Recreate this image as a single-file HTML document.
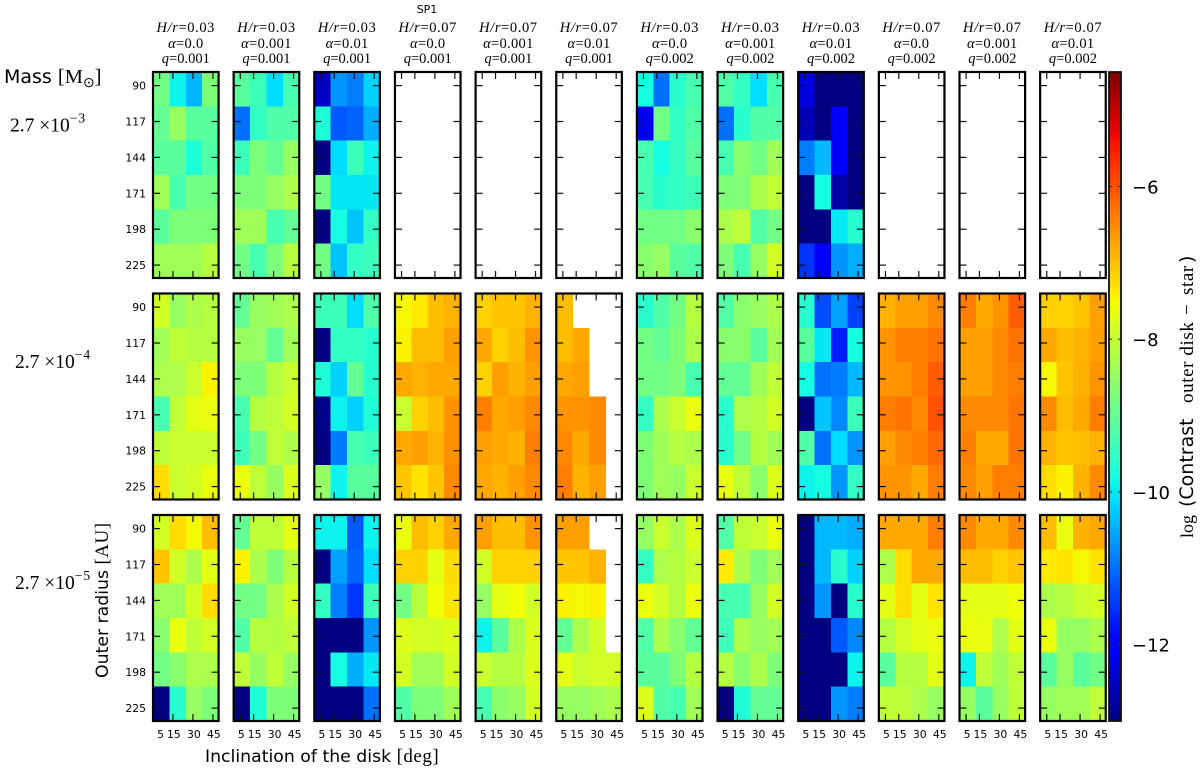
<!DOCTYPE html>
<html>
<head>
<meta charset="utf-8">
<title>Contrast heatmap grid</title>
<style>
html,body{margin:0;padding:0;background:#fff;width:1200px;height:768px;overflow:hidden}
svg{display:block}
.sans{font-family:"DejaVu Sans","Liberation Sans",sans-serif;fill:#000}
.serif{font-family:"Liberation Serif",serif;fill:#000}
.it{font-style:italic}
</style>
</head>
<body>
<svg id="chart" xmlns="http://www.w3.org/2000/svg" width="1200" height="768" viewBox="0 0 1200 768">
  <text class="sans" x="427" y="13" font-size="11" text-anchor="middle">SP1</text>
  <text x="4" y="83" font-size="19"><tspan class="sans">Mass </tspan><tspan class="serif" font-size="20.5">[M</tspan><tspan class="serif" font-size="14" dy="4">⊙</tspan><tspan class="serif" font-size="20.5" dy="-4">]</tspan></text>
  <text class="serif" x="10" y="131.5" font-size="19.5">2.7 ×10<tspan font-size="13.5" dy="-9" letter-spacing="1">−3</tspan></text>
  <text class="serif" x="15" y="368" font-size="19.5">2.7 ×10<tspan font-size="13.5" dy="-9" letter-spacing="1">−4</tspan></text>
  <text class="serif" x="15" y="589" font-size="19.5">2.7 ×10<tspan font-size="13.5" dy="-9" letter-spacing="1">−5</tspan></text>
  <text transform="translate(108,678) rotate(-90)" font-size="17.3"><tspan class="sans">Outer radius </tspan><tspan class="serif" font-size="19" letter-spacing="0.5">[AU]</tspan></text>
  <text x="205" y="762" font-size="17.3"><tspan class="sans">Inclination of the disk </tspan><tspan class="serif" font-size="19" letter-spacing="0.5">[deg]</tspan></text>
  <g transform="translate(1193,0)">
    <text class="serif" transform="translate(0,538) rotate(-90)" font-size="18">log</text>
    <text class="sans" transform="translate(0,507) rotate(-90)" font-size="19">(Contrast</text>
    <text class="serif" transform="translate(0,403) rotate(-90)" font-size="19" letter-spacing="0.6">outer disk</text>
    <text class="serif" transform="translate(0,315) rotate(-90)" font-size="19">−</text>
    <text class="serif" transform="translate(0,295) rotate(-90)" font-size="19" letter-spacing="0.6">star</text>
    <text class="sans" transform="translate(0,263) rotate(-90)" font-size="19">)</text>
  </g>
</svg>
<script>
const radii = [90, 117, 144, 171, 198, 225];
const inclinations = [5, 15, 30, 45];
const aspectRatios = ['0.03','0.03','0.03','0.07','0.07','0.07','0.03','0.03','0.03','0.07','0.07','0.07'];
const viscosities = ['0.0','0.001','0.01','0.0','0.001','0.01','0.0','0.001','0.01','0.0','0.001','0.01'];
const planetRatios = ['0.001','0.001','0.001','0.001','0.001','0.001','0.002','0.002','0.002','0.002','0.002','0.002'];
const colorbarTicks = [-6, -8, -10, -12];
const colorMin = -13;
const colorMax = -4.5;
const N = null;
const emptyPanel = [[N,N,N,N],[N,N,N,N],[N,N,N,N],[N,N,N,N],[N,N,N,N],[N,N,N,N]];

const massE3 = [
 [[-8.85,-9.9,-10.4,-8.72],[-9.0,-8.48,-9.1,-9.1],[-9.1,-9.1,-9.7,-9.2],[-8.37,-9.3,-8.85,-8.85],[-9.1,-8.72,-8.72,-8.72],[-8.37,-8.37,-8.37,-8.15]],
 [[-9.1,-9.4,-10.1,-9.3],[-11.0,-9.5,-9.2,-9.2],[-9.4,-8.72,-9.0,-8.48],[-8.72,-8.72,-8.48,-8.25],[-8.37,-8.37,-9.3,-9.0],[-8.85,-9.3,-8.72,-8.15]],
 [[-12.5,-10.7,-10.9,-10.2],[-9.7,-11.2,-11.1,-10.5],[-13,-10.1,-9.4,-9.9],[-8.85,-10.0,-10.0,-10.0],[-13,-9.8,-10.3,-9.5],[-8.85,-10.3,-9.5,-9.4]],
 emptyPanel, emptyPanel, emptyPanel,
 [[-9.8,-11.0,-9.6,-9.3],[-12.2,-8.85,-9.5,-9.2],[-9.3,-9.8,-9.5,-9.1],[-9.3,-9.6,-9.5,-9.4],[-8.85,-8.85,-8.85,-8.6],[-8.6,-8.48,-9.1,-9.2]],
 [[-9.2,-9.5,-10.1,-9.3],[-11.0,-9.6,-9.2,-9.2],[-9.3,-8.6,-8.85,-8.37],[-8.72,-8.72,-8.25,-8.05],[-8.25,-8.05,-9.2,-8.85],[-8.72,-9.3,-8.48,-7.85]],
 [[-12.3,-13,-13,-13],[-12.6,-13,-12.1,-13],[-10.9,-10.4,-12.1,-13],[-13,-9.8,-12.7,-13],[-13,-13,-10.0,-9.6],[-11.5,-12.1,-10.7,-10.5]],
 emptyPanel, emptyPanel, emptyPanel
];

const massE4 = [
 [[-7.85,-8.48,-8.25,-8.15],[-8.37,-8.05,-8.15,-8.15],[-8.25,-8.25,-7.95,-7.45],[-9.3,-8.05,-7.68,-7.62],[-8.05,-7.95,-7.95,-7.95],[-7.25,-7.95,-7.85,-7.62]],
 [[-9.0,-8.48,-8.37,-8.25],[-8.48,-8.48,-9.0,-8.37],[-8.72,-8.72,-8.15,-7.95],[-9.3,-8.15,-8.05,-7.85],[-9.4,-8.85,-8.05,-8.25],[-7.62,-8.05,-8.48,-7.75]],
 [[-9.4,-9.4,-10.1,-9.2],[-13,-9.5,-9.5,-9.6],[-9.7,-10.2,-9.0,-9.6],[-12.9,-9.9,-10.2,-9.7],[-13,-10.9,-9.3,-9.4],[-8.48,-9.9,-9.1,-9.1]],
 [[-7.5,-7.38,-6.97,-6.88],[-7.45,-6.97,-6.97,-6.7],[-6.78,-6.88,-6.78,-6.78],[-7.95,-7.15,-6.97,-6.6],[-6.78,-6.7,-6.88,-6.6],[-7.05,-7.32,-7.05,-6.5]],
 [[-7.15,-7.05,-7.05,-6.88],[-6.78,-7.15,-6.97,-6.6],[-7.15,-6.7,-6.88,-6.7],[-6.4,-6.78,-6.7,-6.5],[-6.7,-6.78,-6.88,-6.4],[-6.78,-6.88,-6.7,-6.5]],
 [[-6.97,N,N,N],[-6.97,-6.78,N,N],[-6.78,-6.7,N,N],[-6.6,-6.6,-6.5,N],[-6.5,-6.78,-6.5,N],[-6.4,-6.88,-6.7,N]],
 [[-9.6,-9.2,-8.85,-8.15],[-8.85,-9.0,-8.72,-8.25],[-8.85,-8.85,-8.72,-9.3],[-9.5,-8.25,-7.95,-7.62],[-8.72,-8.37,-8.15,-8.25],[-8.72,-8.37,-8.48,-7.95]],
 [[-9.2,-8.6,-8.48,-8.25],[-8.6,-8.6,-9.1,-8.37],[-9.0,-9.0,-8.37,-8.05],[-9.6,-8.25,-8.15,-7.85],[-9.6,-8.85,-8.15,-8.37],[-7.62,-8.05,-8.6,-7.75]],
 [[-9.6,-11.3,-10.6,-11.4],[-9.1,-10.0,-11.7,-9.8],[-9.8,-11.0,-10.9,-10.4],[-13,-10.3,-10.8,-9.4],[-9.2,-11.0,-10.1,-10.7],[-9.9,-9.8,-10.7,-9.5]],
 [[-6.88,-6.7,-6.7,-6.5],[-6.6,-6.4,-6.4,-6.3],[-6.6,-6.6,-6.4,-6.1],[-6.4,-6.3,-6.5,-6.0],[-6.7,-6.5,-6.4,-6.2],[-6.6,-6.6,-6.78,-6.4]],
 [[-6.4,-6.78,-6.6,-6.1],[-6.7,-6.7,-6.5,-6.3],[-6.7,-6.7,-6.5,-6.4],[-6.5,-6.5,-6.5,-6.3],[-6.4,-6.78,-6.78,-6.3],[-6.5,-6.7,-6.4,-6.4]],
 [[-7.15,-7.15,-7.05,-6.7],[-6.78,-6.97,-6.88,-6.7],[-7.5,-7.05,-6.88,-6.6],[-6.5,-6.97,-6.78,-6.4],[-6.88,-7.05,-6.97,-6.88],[-7.25,-7.45,-6.88,-6.5]]
];

const massE5 = [
 [[-7.85,-7.25,-7.5,-6.97],[-7.05,-7.85,-8.25,-7.68],[-8.37,-8.37,-7.85,-7.25],[-8.6,-7.62,-8.05,-7.85],[-8.85,-8.6,-8.25,-8.25],[-13,-9.6,-8.48,-8.72]],
 [[-9.0,-8.05,-8.05,-7.68],[-7.45,-8.25,-8.72,-8.15],[-8.85,-8.85,-8.25,-7.85],[-9.2,-8.15,-8.15,-8.05],[-8.05,-8.48,-8.05,-8.48],[-13,-9.7,-8.72,-8.72]],
 [[-9.9,-9.9,-11.2,-9.9],[-13,-10.6,-11.1,-10.1],[-9.5,-10.9,-11.5,-9.4],[-13,-13,-13,-10.7],[-13,-9.8,-10.5,-10.0],[-13,-13,-13,-11.0]],
 [[-7.62,-6.97,-7.15,-6.78],[-7.15,-7.15,-7.68,-7.25],[-8.85,-8.15,-7.55,-7.32],[-7.75,-7.85,-7.85,-7.75],[-7.85,-8.37,-8.37,-7.85],[-9.2,-8.72,-8.72,-8.37]],
 [[-6.7,-6.97,-6.97,-6.6],[-7.85,-7.15,-7.15,-7.15],[-8.48,-7.68,-7.55,-7.85],[-9.9,-9.1,-8.25,-7.75],[-7.95,-8.15,-8.15,-7.75],[-9.3,-8.6,-8.48,-7.85]],
 [[-6.7,-6.7,N,N],[-7.05,-7.05,-6.88,N],[-7.45,-7.5,-7.45,N],[-9.0,-8.25,-7.85,N],[-7.68,-7.95,-7.85,-7.85],[-8.48,-8.48,-8.37,-8.25]],
 [[-8.48,-7.95,-8.25,-7.75],[-9.5,-8.25,-8.15,-7.95],[-7.62,-7.85,-8.15,-7.62],[-9.2,-8.25,-8.6,-9.0],[-9.1,-9.1,-8.72,-8.15],[-7.75,-9.2,-9.3,-8.37]],
 [[-9.2,-8.05,-7.95,-7.62],[-7.38,-8.25,-8.72,-8.37],[-9.3,-9.3,-8.48,-7.85],[-9.4,-8.25,-8.48,-8.37],[-8.15,-8.6,-8.25,-8.72],[-13,-9.7,-9.0,-9.0]],
 [[-13,-10.4,-10.4,-10.5],[-13,-10.4,-9.6,-10.2],[-13,-10.7,-13,-9.6],[-13,-13,-11.2,-10.8],[-13,-13,-13,-9.9],[-13,-13,-10.7,-10.9]],
 [[-6.78,-6.78,-6.78,-6.4],[-8.25,-7.25,-6.78,-6.78],[-7.68,-7.25,-7.68,-7.32],[-8.15,-7.85,-7.68,-7.62],[-9.1,-8.15,-8.15,-7.68],[-8.05,-8.05,-8.25,-8.48]],
 [[-6.5,-6.78,-6.78,-6.5],[-6.97,-6.97,-7.15,-7.05],[-7.68,-7.68,-7.68,-7.55],[-7.62,-7.62,-8.25,-7.68],[-9.9,-8.05,-8.37,-8.05],[-8.48,-9.1,-8.48,-8.05]],
 [[-6.97,-7.62,-6.88,-6.78],[-7.38,-7.32,-7.5,-7.32],[-8.25,-8.15,-7.95,-7.85],[-7.62,-8.48,-8.48,-8.25],[-9.1,-8.48,-9.1,-8.85],[-8.48,-8.37,-8.37,-8.05]]
];

const massRows = [massE3, massE4, massE5];

const svg = document.getElementById('chart');
const NS = 'http://www.w3.org/2000/svg';
function make(tag, attrs, parent) {
  const e = document.createElementNS(NS, tag);
  for (const k in attrs) e.setAttribute(k, attrs[k]);
  (parent || svg).appendChild(e);
  return e;
}
function ramp(t, stops) {
  for (let i = 1; i < stops.length; i++) {
    if (t <= stops[i][0]) {
      const a = stops[i - 1], b = stops[i];
      return a[1] + (b[1] - a[1]) * (t - a[0]) / (b[0] - a[0]);
    }
  }
  return stops[stops.length - 1][1];
}
function jet(v) {
  const t = Math.max(0, Math.min(1, (v - colorMin) / (colorMax - colorMin)));
  const r = ramp(t, [[0,0],[0.35,0],[0.66,1],[0.89,1],[1,0.5]]);
  const g = ramp(t, [[0,0],[0.125,0],[0.375,1],[0.64,1],[0.91,0],[1,0]]);
  const b = ramp(t, [[0,0.5],[0.11,1],[0.34,1],[0.65,0],[1,0]]);
  return 'rgb(' + Math.round(r * 255) + ',' + Math.round(g * 255) + ',' + Math.round(b * 255) + ')';
}
const panelW = 65.6, panelH = 206;
function panelLeft(col) { return 153 + col * 80.65; }
function panelTop(row) { return 72 + row * 221.5; }
function xTick(left, inc) { return left + 6.6 + (inc - 5) * 20 / 15; }
function yTick(top, rad) { return top + 13.6 + (rad - 90) * 35.9 / 27; }

massRows.forEach(function (panels, row) {
  panels.forEach(function (values, col) {
    const L = panelLeft(col), T = panelTop(row);
    const g = make('g', {});
    
    
    const cw = panelW / inclinations.length, ch = panelH / radii.length;
    values.forEach(function (line, ri) {
      line.forEach(function (v, ci) {
        if (v === null) return;
        const cell = make('rect', {x: L + ci * cw, y: T + ri * ch, width: cw + 0.4, height: ch + 0.4, fill: jet(v), 'shape-rendering': 'crispEdges'}, g);
        
        
      });
    });
    inclinations.forEach(function (inc) {
      const x = xTick(L, inc);
      const t1 = make('line', {x1: x, x2: x, y1: T, y2: T + 7, stroke: '#111', 'stroke-width': 1.2}, g);
      
      
      const t2 = make('line', {x1: x, x2: x, y1: T + panelH, y2: T + panelH - 7, stroke: '#111', 'stroke-width': 1.2}, g);
      
      
      if (row === massRows.length - 1) {
        const lab = make('text', {x: x + 1, y: 738, 'font-size': 10.8, 'text-anchor': 'middle', class: 'sans'}, g);
        lab.textContent = String(inc);
        
        
      }
    });
    radii.forEach(function (rad) {
      const y = yTick(T, rad);
      const t1 = make('line', {x1: L, x2: L + 7, y1: y, y2: y, stroke: '#111', 'stroke-width': 1.2}, g);
      
      
      const t2 = make('line', {x1: L + panelW, x2: L + panelW - 7, y1: y, y2: y, stroke: '#111', 'stroke-width': 1.2}, g);
      
      
      if (col === 0) {
        const lab = make('text', {x: 146, y: y + 4, 'font-size': 10.8, 'text-anchor': 'end', class: 'sans'}, g);
        lab.textContent = String(rad);
        
        
      }
    });
    const frame = make('rect', {x: L, y: T, width: panelW, height: panelH, fill: 'none', stroke: '#000', 'stroke-width': 2.2}, g);
    
    
    if (row === 0) {
      const cx = L + panelW / 2;
      const t1 = make('text', {x: cx, y: 32, 'font-size': 14.5, 'text-anchor': 'middle', class: 'serif', 'letter-spacing': 0.6}, g);
      
      
      const it1 = make('tspan', {class: 'it'}, t1);
      it1.textContent = 'H/r';
      t1.appendChild(document.createTextNode('=' + aspectRatios[col]));
      const t2 = make('text', {x: cx, y: 48, 'font-size': 14.5, 'text-anchor': 'middle', class: 'serif', 'letter-spacing': 0.3}, g);
      
      
      const it2 = make('tspan', {class: 'it'}, t2);
      it2.textContent = 'α';
      t2.appendChild(document.createTextNode('=' + viscosities[col]));
      const t3 = make('text', {x: cx, y: 63, 'font-size': 14.5, 'text-anchor': 'middle', class: 'serif'}, g);
      
      
      const it3 = make('tspan', {class: 'it'}, t3);
      it3.textContent = 'q';
      t3.appendChild(document.createTextNode('=' + planetRatios[col]));
    }
  });
});

const barX = 1109, barW = 12, barTop = 72, barBottom = 721;
function barY(v) { return barBottom - (v - colorMin) * (barBottom - barTop) / (colorMax - colorMin); }
const bar = make('g', {});


for (let y = barTop; y < barBottom; y++) {
  const v = colorMin + (barBottom - y - 0.5) * (colorMax - colorMin) / (barBottom - barTop);
  const strip = make('rect', {x: barX, y: y, width: barW, height: 1.2, fill: jet(v), 'shape-rendering': 'crispEdges'}, bar);
  
  
}
colorbarTicks.forEach(function (v) {
  const y = barY(v);
  const t1 = make('line', {x1: barX, x2: barX + 3, y1: y, y2: y, stroke: '#333', 'stroke-width': 1}, bar);
  
  
  const t2 = make('line', {x1: barX + barW, x2: barX + barW - 3, y1: y, y2: y, stroke: '#333', 'stroke-width': 1}, bar);
  
  
  const lab = make('text', {x: 1132, y: y + 7, 'font-size': 18, class: 'sans'}, bar);
  lab.textContent = '\u2212' + Math.abs(v);
  
  
});
const barFrame = make('rect', {x: barX, y: barTop, width: barW, height: barBottom - barTop, fill: 'none', stroke: '#111', 'stroke-width': 1.8}, bar);


</script>
</body>
</html>
